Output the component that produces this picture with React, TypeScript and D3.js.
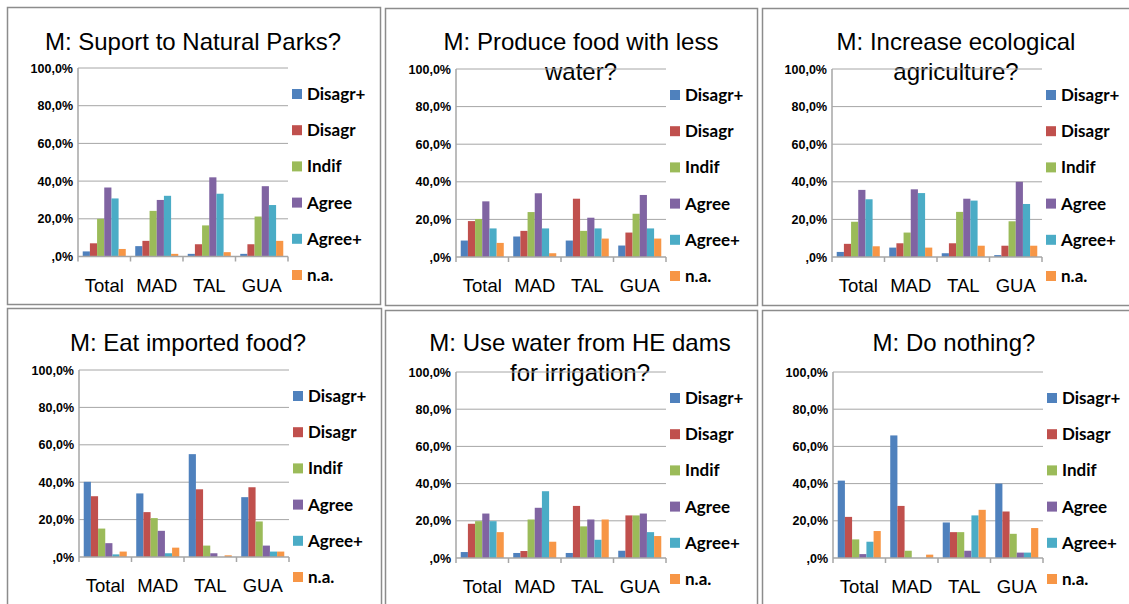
import React from "react";
import * as d3 from "d3";

const categories = ["Total", "MAD", "TAL", "GUA"];
const seriesNames = ["Disagr+", "Disagr", "Indif", "Agree", "Agree+", "n.a."];
const seriesColors = ["#4F81BD", "#C0504D", "#9BBB59", "#8064A2", "#4BACC6", "#F79646"];
const yTicks = [0, 20, 40, 60, 80, 100];
const yTickLabels = [",0%", "20,0%", "40,0%", "60,0%", "80,0%", "100,0%"];

// values[category][series] in %
const parksValues = [
  [2.7, 7, 20, 36.6, 30.8, 4],
  [5.5, 8.3, 24.2, 30, 32.2, 1.4],
  [1.4, 6.5, 16.5, 42, 33.3, 2.3],
  [1.4, 6.5, 21.2, 37.3, 27.3, 8.3],
];
const lessWaterValues = [
  [8.75, 19.1, 20.2, 29.6, 15.2, 7.5],
  [10.9, 13.9, 23.9, 33.9, 15.2, 2],
  [8.75, 31, 13.9, 20.9, 15.2, 9.8],
  [6.1, 13, 23, 33, 15.2, 9.8],
];
const ecoAgriValues = [
  [2.7, 7, 18.75, 35.7, 30.7, 5.7],
  [5, 7.3, 13, 36, 34, 5],
  [2, 7.3, 24, 31, 30, 6],
  [1, 6, 19, 40, 28.2, 6],
];
const importedValues = [
  [40.2, 32.5, 15.2, 7.4, 1.4, 2.9],
  [34, 24, 20.8, 14, 2, 5],
  [55, 36.2, 6.1, 2, 0, 0.9],
  [32, 37.3, 19, 6.1, 2.9, 2.9],
];
const damsValues = [
  [3.2, 18.4, 19.8, 23.9, 19.8, 13.9],
  [2.7, 3.75, 20.7, 27, 35.9, 8.75],
  [2.7, 28, 17, 20.7, 9.8, 20.7],
  [3.9, 22.9, 22.9, 23.9, 13.9, 11.8],
];
const nothingValues = [
  [41.6, 22.1, 10, 2.1, 8.75, 14.5],
  [65.9, 28, 3.9, 0, 0, 1.8],
  [19.1, 13.9, 13.9, 3.9, 22.9, 25.9],
  [40, 25, 13, 2.9, 2.9, 16.1],
];

type PanelDef = {
  title: string[];
  values: number[][];
  box: [number, number, number, number];
  axisX: number;
  y100: number;
  y0: number;
  titleCx: number;
  titleY: number;
};

const panels: PanelDef[] = [
  { title: ["M: Suport to Natural Parks?"], values: parksValues, box: [7, 7, 373, 297], axisX: 78, y100: 68, y0: 256.5, titleCx: 193, titleY: 50 },
  { title: ["M: Produce food with less", "water?"], values: lessWaterValues, box: [385, 8, 372, 297], axisX: 456, y100: 69, y0: 257, titleCx: 581, titleY: 50 },
  { title: ["M: Increase ecological", "agriculture?"], values: ecoAgriValues, box: [762, 8, 390, 297], axisX: 832, y100: 69, y0: 257, titleCx: 956, titleY: 50 },
  { title: ["M: Eat imported food?"], values: importedValues, box: [7, 308, 374, 310], axisX: 79, y100: 370, y0: 557, titleCx: 188, titleY: 351 },
  { title: ["M: Use water from HE dams", "for irrigation?"], values: damsValues, box: [385, 310, 372, 310], axisX: 456, y100: 372, y0: 558, titleCx: 580, titleY: 351 },
  { title: ["M: Do nothing?"], values: nothingValues, box: [762, 310, 390, 310], axisX: 833, y100: 372, y0: 558, titleCx: 954, titleY: 351 },
];

const PLOT_W = 210;

function Panel({ p }: { p: PanelDef }) {
  const x = d3.scaleBand<string>().domain(categories).range([p.axisX, p.axisX + PLOT_W]).paddingInner(0).paddingOuter(0);
  const inner = d3.scaleBand<string>().domain(seriesNames).range([0, x.bandwidth()]).paddingInner(0).paddingOuter(0.66);
  const y = d3.scaleLinear().domain([0, 100]).range([p.y0, p.y100]);
  const [bx, by, bw, bh] = p.box;
  const legendX = p.axisX + 214;
  return (
    <g>
      <rect x={bx + 0.5} y={by + 0.5} width={bw} height={bh} fill="#fff" stroke="#8c8c8c" strokeWidth={1.5} />
      {p.title.map((t, i) => (
        <text key={i} x={p.titleCx} y={p.titleY + i * 30} textAnchor="middle" fontFamily="Liberation Sans, Arial, sans-serif" fontSize={24} fill="#000">
          {t}
        </text>
      ))}
      {yTicks.map((t, i) => (
        <g key={t}>
          {t > 0 && <line x1={p.axisX} x2={p.axisX + PLOT_W} y1={y(t)} y2={y(t)} stroke="#a6a6a6" strokeWidth={1} />}
          <text x={p.axisX - 5} y={y(t) + 4.5} textAnchor="end" fontFamily="Liberation Sans, Arial, sans-serif" fontWeight="bold" fontSize={12.5} fill="#000">
            {yTickLabels[i]}
          </text>
        </g>
      ))}
      {categories.map((c, ci) =>
        p.values[ci].map((v, si) =>
          v > 0 ? (
            <rect
              key={c + si}
              x={(x(c) as number) + (inner(seriesNames[si]) as number)}
              y={y(v)}
              width={inner.bandwidth()}
              height={y(0) - y(v)}
              fill={seriesColors[si]}
            />
          ) : null
        )
      )}
      <line x1={p.axisX} x2={p.axisX} y1={p.y100} y2={p.y0 + 5} stroke="#a6a6a6" strokeWidth={1.5} />
      <line x1={p.axisX} x2={p.axisX + PLOT_W} y1={p.y0} y2={p.y0} stroke="#a6a6a6" strokeWidth={1.5} />
      {categories.map((c) => (
        <line key={c} x1={(x(c) as number) + x.bandwidth()} x2={(x(c) as number) + x.bandwidth()} y1={p.y0} y2={p.y0 + 5} stroke="#a6a6a6" strokeWidth={1.5} />
      ))}
      {categories.map((c) => (
        <text key={c} x={(x(c) as number) + x.bandwidth() / 2} y={p.y0 + 35} textAnchor="middle" fontFamily="Liberation Sans, Arial, sans-serif" fontSize={18.5} fill="#000">
          {c}
        </text>
      ))}
      {seriesNames.map((s, i) => {
        const cy = p.y100 + 26 + i * 36.2;
        return (
          <g key={s}>
            <rect x={legendX} y={cy - 5} width={10} height={10} fill={seriesColors[i]} />
            <text x={legendX + 15} y={cy + 6} fontFamily="Lato, Carlito, Calibri, sans-serif" fontWeight="bold" fontSize={17} fill="#000">
              {s}
            </text>
          </g>
        );
      })}
    </g>
  );
}

export default function App() {
  return (
    <svg width={1129} height={604} style={{ position: "absolute", left: 0, top: 0, background: "#fff" }}>
      <rect x={0} y={0} width={1129} height={604} fill="#fff" />
      {panels.map((p, i) => (
        <Panel key={i} p={p} />
      ))}
    </svg>
  );
}
